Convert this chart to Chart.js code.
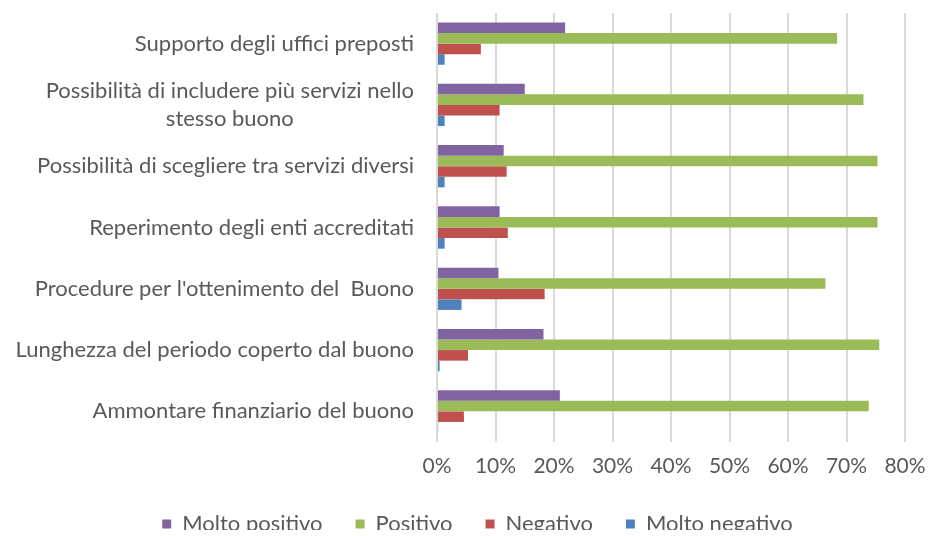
<!DOCTYPE html>
<html>
<head>
<meta charset="utf-8">
<script src="https://cdn.jsdelivr.net/npm/chart.js@4/dist/chart.umd.min.js"></script>
<style>
  html, body { margin: 0; padding: 0; background: #fff; }
  #wrap { width: 928px; height: 536px; }
</style>
</head>
<body>
<div id="wrap"><canvas id="chart" width="928" height="536"></canvas></div>
<script>
const categories = [
    'Supporto degli uffici preposti',
    ['Possibilità di includere più servizi nello', 'stesso buono'],
    'Possibilità di scegliere tra servizi diversi',
    'Reperimento degli enti accreditati',
    "Procedure per l'ottenimento del  Buono",
    'Lunghezza del periodo coperto dal buono',
    'Ammontare finanziario del buono'
];
const seriesNames   = ['Molto positivo', 'Positivo', 'Negativo', 'Molto negativo'];
const moltoPositivo = [21.9, 15.0, 11.4, 10.7, 10.5, 18.2, 21.0];
const positivo      = [68.4, 72.9, 75.3, 75.3, 66.4, 75.6, 73.8];
const negativo      = [7.5, 10.7, 11.9, 12.1, 18.4, 5.3, 4.6];
const moltoNegativo = [1.3, 1.3, 1.3, 1.3, 4.2, 0.45, 0.2];
const xTicks = [0, 10, 20, 30, 40, 50, 60, 70, 80];

const colors = ['#8064A2', '#9BBB59', '#C0504D', '#4F81BD'];
const FONT = 'Lato, "Open Sans", sans-serif';
const TEXT = '#595959';
const LEGEND_H = 50;

// category labels: right aligned, multi-line ones centred on their widest line
const yLabels = {
    id: 'yLabels',
    afterDraw(chart) {
        const { ctx, scales: { y }, chartArea } = chart;
        ctx.save();
        ctx.font = `22px ${FONT}`;
        ctx.fillStyle = TEXT;
        ctx.textAlign = 'center';
        ctx.textBaseline = 'middle';
        const right = chartArea.left - 23;
        const lineH = 28;
        categories.forEach((lab, i) => {
            const lines = Array.isArray(lab) ? lab : [lab];
            const w = Math.max(...lines.map(l => ctx.measureText(l).width));
            const yc = y.getPixelForValue(i);
            lines.forEach((l, j) => {
                ctx.fillText(l, right - w / 2, yc + (j - (lines.length - 1) / 2) * lineH);
            });
        });
        ctx.restore();
    }
};

// keep the legend's wide horizontal spacing but a shorter box
const legendFit = {
    id: 'legendFit',
    beforeLayout(chart) {
        const lg = chart.legend;
        if (lg && !lg._fitPatched) {
            const fit = lg.fit;
            lg.fit = function () { fit.call(this); this.height = LEGEND_H; };
            lg._fitPatched = true;
        }
    }
};

const datasets = [moltoPositivo, positivo, negativo, moltoNegativo].map((d, i) => ({
    label: seriesNames[i],
    data: d,
    backgroundColor: colors[i],
    borderWidth: 0,
    categoryPercentage: 0.69,
    barPercentage: 1
}));

new Chart(document.getElementById('chart'), {
    type: 'bar',
    data: { labels: categories, datasets },
    plugins: [yLabels, legendFit],
    options: {
        indexAxis: 'y',
        responsive: false,
        animation: false,
        devicePixelRatio: 1,
        layout: { padding: { left: 27, right: 0, top: 13, bottom: 6 } },
        plugins: {
            tooltip: { enabled: false },
            legend: {
                position: 'bottom',
                labels: {
                    font: { family: FONT, size: 22 },
                    color: TEXT,
                    boxWidth: 9,
                    boxHeight: 9,
                    padding: 33
                }
            }
        },
        scales: {
            x: {
                min: 0,
                max: 80,
                afterBuildTicks(scale) { scale.ticks = xTicks.map(v => ({ value: v })); },
                afterFit(scale) { scale.paddingRight = 23; scale.height = 38; },
                ticks: {
                    callback: v => v + '%',
                    font: { family: FONT, size: 21 },
                    color: TEXT,
                    padding: 12,
                    maxRotation: 0
                },
                grid: { color: '#D9D9D9', lineWidth: 2, drawTicks: false },
                border: { display: false }
            },
            y: {
                afterFit(scale) { scale.width = 410; },
                ticks: { display: false },
                grid: { display: false },
                border: { display: false }
            }
        }
    }
});
</script>
</body>
</html>
